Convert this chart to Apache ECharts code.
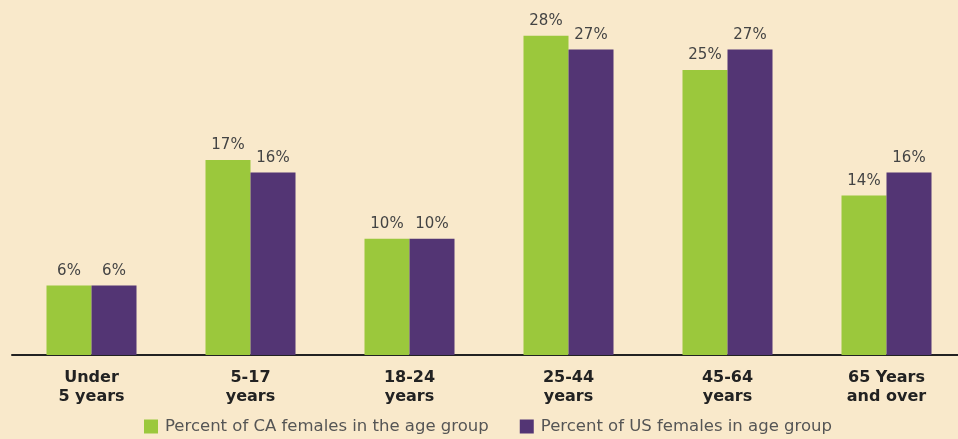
<!DOCTYPE html>
<html>
<head>
<meta charset="utf-8">
<script src="https://cdn.jsdelivr.net/npm/echarts@6/dist/echarts.min.js"></script>
<style>
  html, body { margin: 0; padding: 0; background: #f9e9cb; overflow: hidden; }
  #main { width: 966px; height: 439px; }
</style>
</head>
<body>
<div id="main"></div>
<script>
var categories = ['Under\n5 years', '5-17\nyears', '18-24\nyears', '25-44\nyears', '45-64\nyears', '65 Years\nand over'];
var caValues = [6.1, 17.1, 10.2, 28, 25, 14];
var usValues = [6.1, 16, 10.2, 26.8, 26.8, 16];
var seriesNames = ['Percent of CA females in the age group', 'Percent of US females in age group'];

var chart = echarts.init(document.getElementById('main'));

var labelStyle = {
  show: true,
  position: 'top',
  distance: 7,
  color: '#444',
  fontSize: 15,
  fontFamily: 'DejaVu Sans',
  formatter: function (p) { return Math.round(p.value) + '%'; }
};

var option = {
  backgroundColor: '#f9e9cb',
  animation: false,
  color: ['#9bc83c', '#533574'],
  legend: {
    data: seriesNames,
    bottom: 4,
    left: 144,
    padding: 0,
    itemWidth: 14,
    itemHeight: 14,
    itemGap: 31,
    icon: 'rect',
    textStyle: { color: '#555', fontSize: 16.5, fontFamily: 'DejaVu Sans', padding: [0, 0, 0, 2] }
  },
  grid: {
    left: 12,
    top: 13,
    right: 0,
    height: 342
  },
  xAxis: {
    type: 'category',
    data: categories,
    axisLine: { lineStyle: { color: '#222', width: 2 } },
    axisTick: { show: false },
    axisLabel: {
      margin: 13,
      color: '#222',
      fontSize: 16,
      fontWeight: 'bold',
      lineHeight: 19,
      fontFamily: 'DejaVu Sans'
    }
  },
  yAxis: {
    type: 'value',
    min: 0,
    max: 30,
    show: false,
    splitLine: { show: false }
  },
  series: [{
    name: seriesNames[0],
    type: 'bar',
    data: caValues,
    barWidth: 45,
    barGap: '0%',
    label: labelStyle
  }, {
    name: seriesNames[1],
    type: 'bar',
    data: usValues,
    barWidth: 45,
    barGap: '0%',
    label: labelStyle
  }]
};

chart.setOption(option);
</script>
</body>
</html>
